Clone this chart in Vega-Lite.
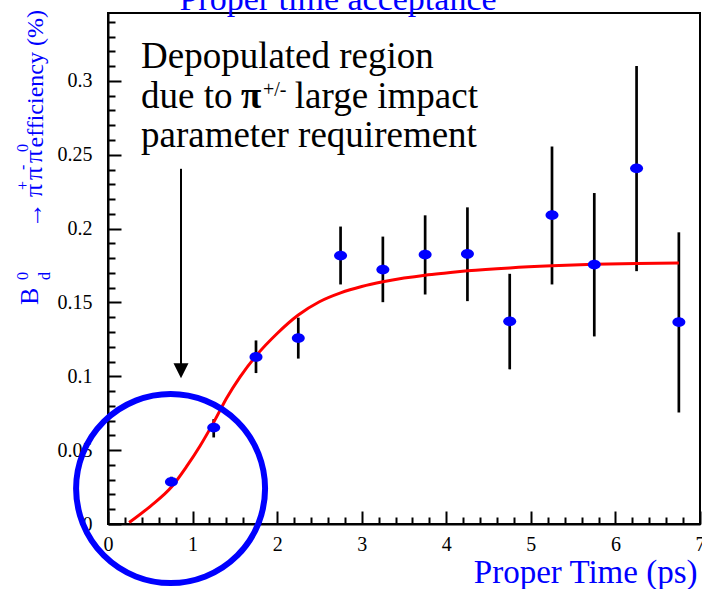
{
  "$schema": "https://vega.github.io/schema/vega-lite/v6.json",
  "width": 592,
  "height": 511,
  "autosize": {"type": "none"},
  "padding": {"left": 108, "top": 13, "right": 2, "bottom": 65},
  "background": "white",
  "config": {
    "view": {"stroke": "black", "strokeWidth": 2},
    "font": "Liberation Serif",
    "axis": {"labelFont": "Liberation Serif", "labelFontSize": 20, "labelColor": "black", "labelFlush": false, "labelOverlap": false, "domainColor": "black", "domainWidth": 2, "tickColor": "black", "tickWidth": 2, "grid": false, "titleFont": "Liberation Serif", "titleFontWeight": "normal", "titleColor": "#0000ff"}
  },
  "title": {"text": "Proper time acceptance", "color": "#0000ff", "font": "Liberation Serif", "fontSize": 34, "fontWeight": "normal", "anchor": "middle", "dx": -66, "baseline": "top", "offset": -7},
  "datasets": {
    "pts": [
      {"t": 0.75, "eff": 0.0286, "lo": 0.0256, "hi": 0.0320},
      {"t": 1.25, "eff": 0.0653, "lo": 0.0586, "hi": 0.0710},
      {"t": 1.75, "eff": 0.1131, "lo": 0.1022, "hi": 0.1243},
      {"t": 2.25, "eff": 0.1259, "lo": 0.1120, "hi": 0.1397},
      {"t": 2.75, "eff": 0.1818, "lo": 0.1622, "hi": 0.2014},
      {"t": 3.25, "eff": 0.1723, "lo": 0.1502, "hi": 0.1946},
      {"t": 3.75, "eff": 0.1824, "lo": 0.1554, "hi": 0.2090},
      {"t": 4.25, "eff": 0.1829, "lo": 0.1509, "hi": 0.2144},
      {"t": 4.75, "eff": 0.1372, "lo": 0.1047, "hi": 0.1694},
      {"t": 5.25, "eff": 0.2092, "lo": 0.1622, "hi": 0.2556},
      {"t": 5.75, "eff": 0.1757, "lo": 0.1270, "hi": 0.2241},
      {"t": 6.25, "eff": 0.2408, "lo": 0.1712, "hi": 0.3101},
      {"t": 6.75, "eff": 0.1367, "lo": 0.0755, "hi": 0.1975}
    ],
    "fit": [
      {"t": 0.25, "eff": 0.001},
      {"t": 0.5, "eff": 0.012},
      {"t": 0.75, "eff": 0.025},
      {"t": 0.93, "eff": 0.039},
      {"t": 1.09, "eff": 0.053},
      {"t": 1.27, "eff": 0.071},
      {"t": 1.4, "eff": 0.085},
      {"t": 1.56, "eff": 0.0995},
      {"t": 1.76, "eff": 0.1145},
      {"t": 2.0, "eff": 0.129},
      {"t": 2.25, "eff": 0.1415},
      {"t": 2.5, "eff": 0.1505},
      {"t": 2.75, "eff": 0.1565},
      {"t": 3.0, "eff": 0.1608},
      {"t": 3.25, "eff": 0.164},
      {"t": 3.5, "eff": 0.1665},
      {"t": 3.75, "eff": 0.1685},
      {"t": 4.0, "eff": 0.170},
      {"t": 4.25, "eff": 0.1714},
      {"t": 4.75, "eff": 0.1734},
      {"t": 5.25, "eff": 0.1748},
      {"t": 5.75, "eff": 0.1758},
      {"t": 6.25, "eff": 0.1764},
      {"t": 6.75, "eff": 0.1768}
    ]
  },
  "layer": [
    {
      "data": {"name": "pts"},
      "mark": {"type": "rule", "color": "black", "strokeWidth": 2.7},
      "encoding": {
        "x": {"field": "t", "type": "quantitative", "scale": {"domain": [0, 7], "nice": false, "zero": false},
          "axis": {
            "values": [0,0.2,0.4,0.6,0.8,1,1.2,1.4,1.6,1.8,2,2.2,2.4,2.6,2.8,3,3.2,3.4,3.6,3.8,4,4.2,4.4,4.6,4.8,5,5.2,5.4,5.6,5.8,6,6.2,6.4,6.6,6.8,7],
            "tickCount": 100,
            "title": "Proper Time (ps)", "titleFontSize": 33,
            "titleAlign": "right", "titleBaseline": "alphabetic", "titleX": 589, "titleY": 58, "titleAngle": 0,
            "labelPadding": 23,
            "labelExpr": "datum.value % 1 == 0 ? '' + datum.value : ''",
            "tickSize": {"condition": {"test": "datum.value % 1 == 0", "value": -13}, "value": -7}
          }},
        "y": {"field": "lo", "type": "quantitative", "scale": {"domain": [0, 0.346], "nice": false},
          "axis": {
            "values": [0,0.01,0.02,0.03,0.04,0.05,0.06,0.07,0.08,0.09,0.1,0.11,0.12,0.13,0.14,0.15,0.16,0.17,0.18,0.19,0.2,0.21,0.22,0.23,0.24,0.25,0.26,0.27,0.28,0.29,0.3,0.31,0.32,0.33,0.34],
            "tickCount": 100,
            "title": "efficiency (%)", "titleFontSize": 24,
            "titleAngle": 270, "titleAlign": "left", "titleBaseline": "alphabetic", "titleX": -66, "titleY": 134,
            "labelPadding": 29,
            "labelExpr": "abs(datum.value*20 - round(datum.value*20)) < 0.001 ? '' + datum.value : ''",
            "tickSize": {"condition": {"test": "abs(datum.value*20 - round(datum.value*20)) < 0.001", "value": -13}, "value": -7}
          }},
        "y2": {"field": "hi"}
      }
    },
    {
      "data": {"name": "fit"},
      "mark": {"type": "line", "color": "#ff0000", "strokeWidth": 3, "interpolate": "monotone"},
      "encoding": {
        "x": {"field": "t", "type": "quantitative"},
        "y": {"field": "eff", "type": "quantitative"}
      }
    },
    {
      "data": {"name": "pts"},
      "mark": {"type": "point", "shape": "M -1 0 A 1 0.75 0 1 0 1 0 A 1 0.75 0 1 0 -1 0 Z", "size": 169, "filled": true, "color": "#0000ff", "opacity": 1, "strokeWidth": 0},
      "encoding": {
        "x": {"field": "t", "type": "quantitative"},
        "y": {"field": "eff", "type": "quantitative"}
      }
    },
    {
      "data": {"values": [{}]},
      "mark": {"type": "point", "shape": "circle", "size": 35721, "filled": false, "stroke": "#0000ff", "strokeWidth": 6, "opacity": 1},
      "encoding": {"x": {"datum": 0.74, "type": "quantitative"}, "y": {"datum": 0.024, "type": "quantitative"}}
    },
    {
      "data": {"values": [{}]},
      "mark": {"type": "rule", "color": "black", "strokeWidth": 2},
      "encoding": {"x": {"datum": 0.863, "type": "quantitative"}, "y": {"datum": 0.2405, "type": "quantitative"}, "y2": {"datum": 0.106}}
    },
    {
      "data": {"values": [{}]},
      "mark": {"type": "point", "shape": "M -1 -1 L 1 -1 L 0 1 Z", "size": 225, "filled": true, "color": "black", "opacity": 1, "strokeWidth": 0},
      "encoding": {"x": {"datum": 0.863, "type": "quantitative"}, "y": {"datum": 0.1037, "type": "quantitative"}}
    },
    {
      "data": {"values": [{}]},
      "mark": {"type": "text", "text": "Depopulated region", "font": "Liberation Serif", "fontSize": 37, "align": "left", "baseline": "alphabetic", "color": "black"},
      "encoding": {"x": {"datum": 0.39, "type": "quantitative"}, "y": {"datum": 0.3087, "type": "quantitative"}}
    },
    {
      "data": {"values": [{}]},
      "mark": {"type": "text", "text": "due to", "font": "Liberation Serif", "fontSize": 37, "align": "left", "baseline": "alphabetic", "color": "black"},
      "encoding": {"x": {"datum": 0.39, "type": "quantitative"}, "y": {"datum": 0.2817, "type": "quantitative"}}
    },
    {
      "data": {"values": [{}]},
      "mark": {"type": "text", "text": "π", "font": "Liberation Serif", "fontWeight": "bold", "fontSize": 37, "align": "left", "baseline": "alphabetic", "color": "black"},
      "encoding": {"x": {"datum": 1.573, "type": "quantitative"}, "y": {"datum": 0.2817, "type": "quantitative"}}
    },
    {
      "data": {"values": [{}]},
      "mark": {"type": "text", "text": "+/-", "font": "Liberation Serif", "fontSize": 20, "align": "left", "baseline": "alphabetic", "color": "black"},
      "encoding": {"x": {"datum": 1.833, "type": "quantitative"}, "y": {"datum": 0.2898, "type": "quantitative"}}
    },
    {
      "data": {"values": [{}]},
      "mark": {"type": "text", "text": "large impact", "font": "Liberation Serif", "fontSize": 37, "align": "right", "baseline": "alphabetic", "color": "black"},
      "encoding": {"x": {"datum": 4.375, "type": "quantitative"}, "y": {"datum": 0.2817, "type": "quantitative"}}
    },
    {
      "data": {"values": [{}]},
      "mark": {"type": "text", "text": "parameter requirement", "font": "Liberation Serif", "fontSize": 37, "align": "left", "baseline": "alphabetic", "color": "black"},
      "encoding": {"x": {"datum": 0.39, "type": "quantitative"}, "y": {"datum": 0.2552, "type": "quantitative"}}
    },
    {
      "data": {"values": [{}]},
      "mark": {"type": "text", "text": "B", "font": "Liberation Serif", "fontSize": 26, "align": "left", "baseline": "alphabetic", "angle": 270, "color": "#0000ff"},
      "encoding": {"x": {"datum": -0.828, "type": "quantitative"}, "y": {"datum": 0.1483, "type": "quantitative"}}
    },
    {
      "data": {"values": [{}]},
      "mark": {"type": "text", "text": "d", "font": "Liberation Serif", "fontSize": 16, "align": "left", "baseline": "alphabetic", "angle": 270, "color": "#0000ff"},
      "encoding": {"x": {"datum": -0.686, "type": "quantitative"}, "y": {"datum": 0.1652, "type": "quantitative"}}
    },
    {
      "data": {"values": [{}]},
      "mark": {"type": "text", "text": "0", "font": "Liberation Serif", "fontSize": 16, "align": "left", "baseline": "alphabetic", "angle": 270, "color": "#0000ff"},
      "encoding": {"x": {"datum": -0.946, "type": "quantitative"}, "y": {"datum": 0.1652, "type": "quantitative"}}
    },
    {
      "data": {"values": [{}]},
      "mark": {"type": "text", "text": "→", "font": "Liberation Serif", "fontSize": 26, "align": "left", "baseline": "alphabetic", "angle": 270, "color": "#0000ff"},
      "encoding": {"x": {"datum": -0.78, "type": "quantitative"}, "y": {"datum": 0.2004, "type": "quantitative"}}
    },
    {
      "data": {"values": [{}]},
      "mark": {"type": "text", "text": "π", "font": "Liberation Serif", "fontSize": 26, "align": "left", "baseline": "alphabetic", "angle": 270, "color": "#0000ff"},
      "encoding": {"x": {"datum": -0.78, "type": "quantitative"}, "y": {"datum": 0.2214, "type": "quantitative"}}
    },
    {
      "data": {"values": [{}]},
      "mark": {"type": "text", "text": "+", "font": "Liberation Serif", "fontSize": 16, "align": "left", "baseline": "alphabetic", "angle": 270, "color": "#0000ff"},
      "encoding": {"x": {"datum": -0.946, "type": "quantitative"}, "y": {"datum": 0.2261, "type": "quantitative"}}
    },
    {
      "data": {"values": [{}]},
      "mark": {"type": "text", "text": "π", "font": "Liberation Serif", "fontSize": 26, "align": "left", "baseline": "alphabetic", "angle": 270, "color": "#0000ff"},
      "encoding": {"x": {"datum": -0.78, "type": "quantitative"}, "y": {"datum": 0.2329, "type": "quantitative"}}
    },
    {
      "data": {"values": [{}]},
      "mark": {"type": "text", "text": "-", "font": "Liberation Serif", "fontSize": 16, "align": "left", "baseline": "alphabetic", "angle": 270, "color": "#0000ff"},
      "encoding": {"x": {"datum": -0.946, "type": "quantitative"}, "y": {"datum": 0.2397, "type": "quantitative"}}
    },
    {
      "data": {"values": [{}]},
      "mark": {"type": "text", "text": "π", "font": "Liberation Serif", "fontSize": 26, "align": "left", "baseline": "alphabetic", "angle": 270, "color": "#0000ff"},
      "encoding": {"x": {"datum": -0.78, "type": "quantitative"}, "y": {"datum": 0.2444, "type": "quantitative"}}
    },
    {
      "data": {"values": [{}]},
      "mark": {"type": "text", "text": "0", "font": "Liberation Serif", "fontSize": 16, "align": "left", "baseline": "alphabetic", "angle": 270, "color": "#0000ff"},
      "encoding": {"x": {"datum": -0.946, "type": "quantitative"}, "y": {"datum": 0.2519, "type": "quantitative"}}
    }
  ]
}
